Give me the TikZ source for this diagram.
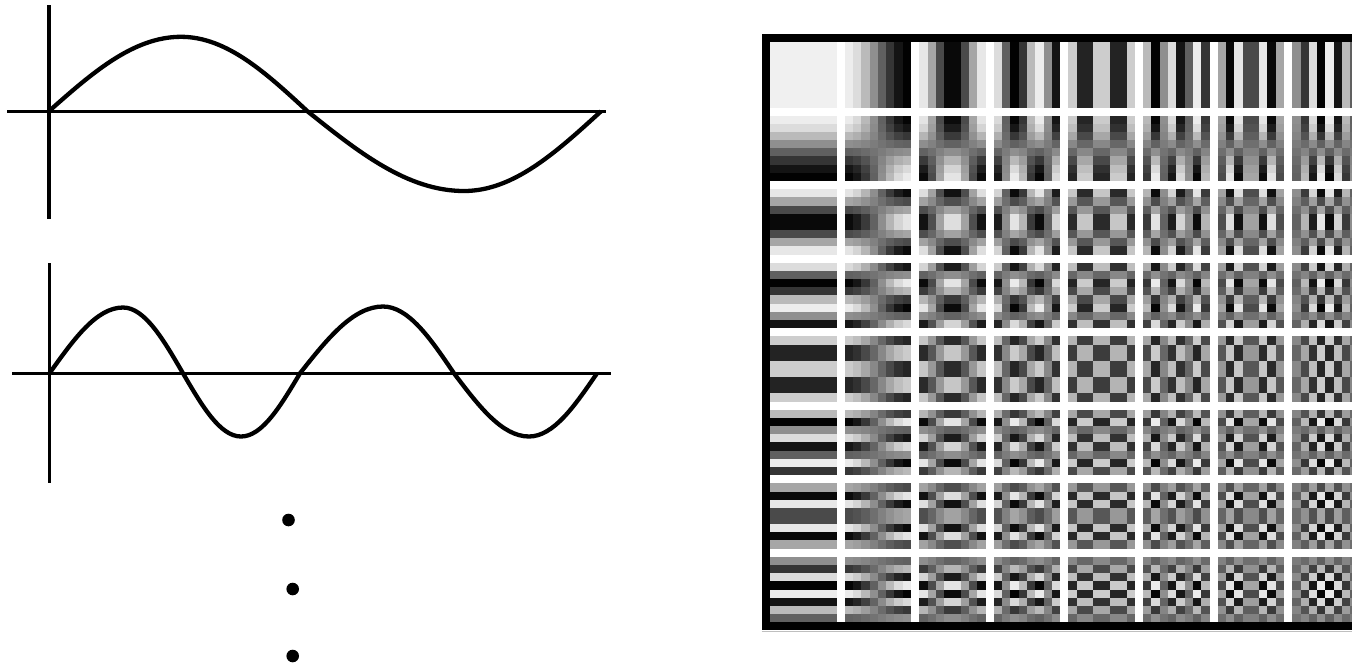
\documentclass[tikz,border=0pt]{standalone}
\begin{document}
\begin{tikzpicture}[x=1pt,y=-1pt,
  axis/.style={line width=3.6pt},
  wave/.style={line width=4.3pt, line join=round},
  dotmark/.style={fill=black},
  sep/.style={fill=white}]
\useasboundingbox (0,0) rectangle (1352,665);
% ---- DCT basis grid ----
\begin{scope}
\clip (0,0) rectangle (1352,665);
\fill[black] (761.7,34) rectangle (1380,630);
\fill[sep] (770,42.3) rectangle (1370,622);
\draw[black!25, line width=1pt] (761.7,631.5) -- (1352,631.5);
\foreach \u in {0,...,7}{
 \foreach \v in {0,...,7}{
  \pgfmathsetmacro\bx{770+74.61*\u}
  \pgfmathsetmacro\by{42.3+73.53*\v}
  \foreach \i in {0,...,7}{
   \foreach \j in {0,...,7}{
     \pgfmathsetmacro\k{53-47*cos((2*\i+1)*\u*11.25)*cos((2*\j+1)*\v*11.25)}
     \fill[black!\k] (\bx+8.3*\i,\by+8.125*\j) rectangle ++(8.55,8.375);
   }}}}
\end{scope}
% ---- first wave ----
\coordinate (o1) at (48.8,111.3);
\draw[axis] (48.8,5) -- (48.8,219);
\draw[axis] (7,111.3) -- (606,111.3);
\draw[wave] (o1) sin (181,36.8) cos (307.5,111.3) sin (464,191) cos (601,111.3);
% ---- second wave ----
\coordinate (o2) at (49.5,373.3);
\draw[axis] (49.3,263) -- (49.3,483);
\draw[axis] (12,373.3) -- (611,373.3);
\draw[wave] (o2) sin (123,307.5) cos (183,373.3) sin (241,436.5) cos (300,373.3)
  sin (383,306.5) cos (454,373.3) sin (529,436.5) cos (597,373.3);
% ---- dots ----
\fill[dotmark] (288.5,520) circle (6.3);
\fill[dotmark] (292.7,589) circle (6.3);
\fill[dotmark] (292.7,656) circle (6.3);
\end{tikzpicture}
\end{document}
